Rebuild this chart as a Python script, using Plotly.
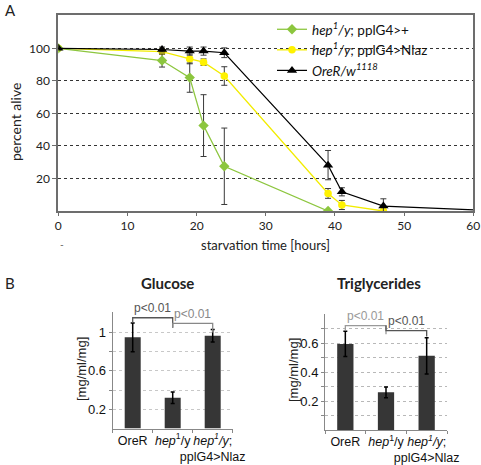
import plotly.graph_objects as go

# ---------------- Panel A data ----------------
hours_green = [0, 15, 19, 21, 24, 39]
alive_green = [100, 92.5, 82, 52.5, 27.5, 0]
err_green = [0, 4, 9, 19, 23.5, 0]

hours_yellow = [0, 15, 19, 21, 24, 39, 41, 47]
alive_yellow = [100, 98, 93.5, 91.5, 83, 10.8, 3.7, 0]
err_yellow = [0, 1.5, 3, 2, 5.7, 3, 2.8, 0]

hours_black = [0, 15, 19, 21, 24, 39, 41, 47, 64]
alive_black = [100, 99.3, 98.3, 98.3, 97.3, 28.2, 11.8, 3, 0]
err_black = [0, 1.5, 2.5, 2.5, 3, 9, 2.5, 4.5, 0]

x_ticks_a = [0, 10, 20, 30, 40, 50, 60]
y_ticks_a = [20, 40, 60, 80, 100]

# ---------------- Panel B data ----------------
genotypes = ["OreR", "<i>hep</i><sup>1</sup>/y", "<i>hep<sup>1</sup>/y</i>;<br>pplG4&gt;Nlaz"]
glucose = [0.95, 0.32, 0.967]
glucose_err = [0.15, 0.06, 0.065]
trig = [0.594, 0.261, 0.512]
trig_err = [0.087, 0.037, 0.125]

glucose_labels = [0.2, 0.6, 1.0]
glucose_grid = [0.2, 0.4, 0.6, 0.8, 1.0]
trig_labels = [0.2, 0.4, 0.6]
trig_grid = [0.1, 0.2, 0.3, 0.4, 0.5, 0.6, 0.7]

W, H = 481, 465
FA = "Lato"
FB = "Liberation Sans"

fig = go.Figure()

err_style = dict(type="data", color="#3a3a3a", thickness=1, width=3)

fig.add_trace(go.Scatter(
    x=hours_yellow, y=alive_yellow, mode="lines+markers",
    name="<i>hep<sup>1</sup>/y</i>; pplG4&gt;Nlaz",
    line=dict(color="#f2ec00", width=1.3),
    marker=dict(symbol="circle", size=7.5, color="#fff200"),
    error_y=dict(array=err_yellow, **err_style),
    legendrank=2, xaxis="x", yaxis="y"))
fig.add_trace(go.Scatter(
    x=hours_green, y=alive_green, mode="lines+markers",
    name="<i>hep<sup>1</sup>/y</i>; pplG4&gt;+",
    line=dict(color="#8dc63f", width=1.3),
    marker=dict(symbol="diamond", size=8, color="#8cc63e"),
    error_y=dict(array=err_green, **err_style),
    legendrank=1, xaxis="x", yaxis="y"))
fig.add_trace(go.Scatter(
    x=hours_black, y=alive_black, mode="lines+markers",
    name="<i>OreR/w<sup>1118</sup></i>",
    line=dict(color="#000000", width=1.2),
    marker=dict(symbol="triangle-up", size=9, color="#000000"),
    error_y=dict(array=err_black, **err_style),
    legendrank=3, xaxis="x", yaxis="y"))

bar_color = "#363636"
fig.add_trace(go.Bar(
    x=genotypes, y=glucose, width=0.4, marker=dict(color=bar_color, line=dict(width=0)),
    error_y=dict(type="data", array=glucose_err, color="#000", thickness=1.5, width=2),
    showlegend=False, xaxis="x2", yaxis="y2"))
fig.add_trace(go.Bar(
    x=genotypes, y=trig, width=0.4, marker=dict(color=bar_color, line=dict(width=0)),
    error_y=dict(type="data", array=trig_err, color="#000", thickness=1.5, width=2),
    showlegend=False, xaxis="x3", yaxis="y3"))

def px_x(p):
    return p / W

def px_y(p):
    return 1 - p / H

axis_line = "#6d6d6d"
bar_axis = dict(showline=True, linecolor="#888", linewidth=1, ticks="outside", ticklen=3,
                tickcolor="#888", automargin=False, zeroline=False)
fig.update_layout(
    template="none",
    width=W, height=H, margin=dict(l=0, r=0, t=0, b=0, autoexpand=False),
    paper_bgcolor="white", plot_bgcolor="white",
    font=dict(family=FA, color="#222"),
    showlegend=True,
    legend=dict(x=px_x(272), y=px_y(14), xanchor="left", yanchor="top",
                bgcolor="rgba(0,0,0,0)", font=dict(family=FA, size=13.5, color="#111"),
                itemwidth=30, tracegroupgap=0, traceorder="normal", borderwidth=0),
    xaxis=dict(domain=[px_x(58.3), px_x(473.3)], range=[0, 60], tickvals=x_ticks_a,
               showline=True, mirror=True, linecolor=axis_line, linewidth=2,
               ticks="outside", ticklen=3, tickcolor=axis_line, showgrid=False, zeroline=False,
               automargin=False,
               tickfont=dict(family=FA, size=12, color="#222")),
    yaxis=dict(domain=[px_y(211), px_y(15)], range=[0, 120.5], tickvals=y_ticks_a,
               showline=True, mirror=True, linecolor=axis_line, linewidth=2,
               ticks="outside", ticklen=4, tickcolor=axis_line, zeroline=False,
               showgrid=True, gridcolor="#333", griddash="3px,3px", gridwidth=1,
               automargin=False,
               tickfont=dict(family=FA, size=12, color="#222")),
    xaxis2=dict(domain=[px_x(112.7), px_x(232.7)], range=[-0.5, 2.5], anchor="y2",
                tickson="boundaries", showgrid=False, tickangle=0,
                tickfont=dict(family=FB, size=12.5, color="#111"), **bar_axis),
    yaxis2=dict(domain=[px_y(428.5), px_y(311.7)], range=[0, 1.217], anchor="x2",
                tickvals=glucose_labels, showgrid=True, gridcolor="#c8c8c8", griddash="dot",
                minor=dict(tickvals=glucose_grid, showgrid=True, gridcolor="#c8c8c8",
                           griddash="dot", ticks="outside", ticklen=3, tickcolor="#888"),
                tickfont=dict(family=FB, size=13, color="#111"), **bar_axis),
    xaxis3=dict(domain=[px_x(325), px_x(447)], range=[-0.5, 2.5], anchor="y3",
                tickson="boundaries", showgrid=False, tickangle=0,
                tickfont=dict(family=FB, size=12.5, color="#111"), **bar_axis),
    yaxis3=dict(domain=[px_y(430.2), px_y(314)], range=[0, 0.8], anchor="x3",
                tickvals=trig_labels, showgrid=True, gridcolor="#b8b8b8", griddash="dot",
                minor=dict(tickvals=trig_grid, showgrid=True, gridcolor="#b8b8b8",
                           griddash="dot", ticks="outside", ticklen=3, tickcolor="#888"),
                tickfont=dict(family=FB, size=13, color="#111"), **bar_axis),
)

ann = []
def text(x, y, s, size=13, family=FA, angle=0, color="#222", bold=False):
    if bold:
        s = "<b>" + s + "</b>"
    ann.append(dict(x=px_x(x), y=px_y(y), xref="paper", yref="paper", text=s,
                    showarrow=False, xanchor="center", yanchor="middle", textangle=angle,
                    font=dict(family=family, size=size, color=color)))

text(10, 10, "A", size=15)
text(10, 283, "B", size=15)
text(15, 122, "percent alive", size=14, angle=-90)
text(265, 245, "starvation time [hours]", size=13)
text(62, 244, "-", size=10, color="#555")
text(167, 283, "Glucose", size=15, bold=True)
text(379, 283, "Triglycerides", size=15, bold=True)
text(81, 369, "[mg/ml/mg]", size=13, family=FB, angle=-90, color="#222")
text(293, 370, "[mg/ml/mg]", size=13, family=FB, angle=-90, color="#222")

# significance brackets (category index, data units)
shapes = []
def bracket(xa, ya, i0, i1, y_top, y0_leg, y1_leg, color, label, ly):
    shapes.append(dict(type="path", xref=xa, yref=ya,
                       path=f"M {i0},{y0_leg} L {i0},{y_top} L {i1},{y_top} L {i1},{y1_leg}",
                       line=dict(color=color, width=1.3)))
    ann.append(dict(x=(i0 + i1) / 2, y=ly, xref=xa, yref=ya, text=label, showarrow=False,
                    yanchor="bottom", font=dict(family=FB, size=12, color=color)))

bracket("x2", "y2", 0, 1, 1.154, 1.10, 1.05, "#555", "p&lt;0.01", 1.16)
bracket("x2", "y2", 1, 2, 1.096, 1.05, 1.00, "#888", "p&lt;0.01", 1.10)
bracket("x3", "y3", 0, 1, 0.72, 0.69, 0.66, "#999", "p&lt;0.01", 0.725)
bracket("x3", "y3", 1, 2, 0.685, 0.72, 0.645, "#555", "p&lt;0.01", 0.69)

fig.update_layout(annotations=ann, shapes=shapes)
fig.write_html("out.html", config={"displayModeBar": False},
               post_script="document.body.style.margin='0';document.body.style.overflow='hidden';")
